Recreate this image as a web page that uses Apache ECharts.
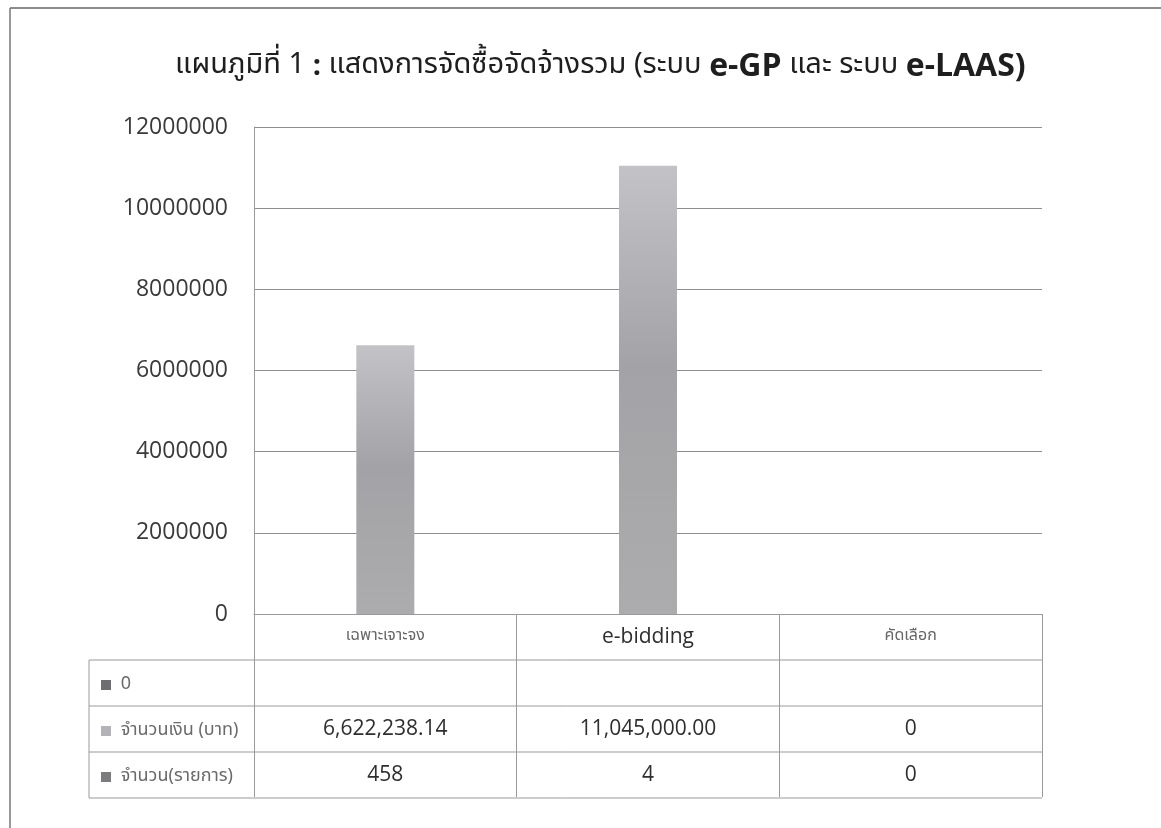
<!DOCTYPE html>
<html>
<head>
<meta charset="utf-8">
<title>แผนภูมิที่ 1</title>
<script src="https://cdn.jsdelivr.net/npm/echarts@6/dist/echarts.min.js"></script>
<style>
  html, body { margin: 0; padding: 0; background: #fff; }
  #chart { width: 1161px; height: 828px; }
</style>
</head>
<body>
<div id="chart"></div>
<script>
  // ข้อมูลจากแผนภูมิ
  const categories = ['เฉพาะเจาะจง', 'e-bidding', 'คัดเลือก']
  const seriesNames = ['0', 'จำนวนเงิน (บาท)', 'จำนวน(รายการ)']
  const zeroRow = [null, null, null]
  const amountBaht = [6622238.14, 11045000.00, 0]
  const itemCount = [458, 4, 0]
  const yMin = 0
  const yMax = 12000000
  const yStep = 2000000

  // layout
  const GRID = { left: 254, right: 119, top: 127, bottom: 214 }
  const W = 1161, H = 828
  const ROW_H = 46
  const TABLE_LEFT = 89
  const LINE = '#9a9a9a'
  const THAI = "'Noto Sans Thai', 'Noto Sans', 'DejaVu Sans', sans-serif"
  const LATIN = "'Open Sans', 'Noto Sans', sans-serif"

  const fmtAmount = v => v === 0 ? '0' : v.toLocaleString('en-US', { minimumFractionDigits: 2, maximumFractionDigits: 2 })
  const fmtCount = v => String(v)
  const isThai = s => /[\u0E00-\u0E7F]/.test(s)

  const seriesData = [zeroRow, amountBaht, itemCount]
  const seriesColors = ['#6e6e70', '#b3b3b7', '#7c7c7e']

  const chart = echarts.init(document.getElementById('chart'), null, { renderer: 'canvas' })

  const axisY = H - GRID.bottom
  const tableRight = W - GRID.right
  // table horizontal rules, one per row boundary below the header
  const rules = []
  for (let r = 1; r <= 4; r++) {
    const y = axisY + r * ROW_H
    rules.push({ type: 'line', shape: { x1: TABLE_LEFT, y1: y, x2: tableRight, y2: y }, style: { stroke: LINE, lineWidth: 1 }, silent: true })
  }
  rules.push({ type: 'line', shape: { x1: TABLE_LEFT, y1: axisY + ROW_H, x2: TABLE_LEFT, y2: axisY + 4 * ROW_H }, style: { stroke: LINE, lineWidth: 1 }, silent: true })
  // page frame
  rules.push({ type: 'line', shape: { x1: 10, y1: 8, x2: W, y2: 8 }, style: { stroke: '#666', lineWidth: 1.5 }, silent: true })
  rules.push({ type: 'line', shape: { x1: 10, y1: 8, x2: 10, y2: H }, style: { stroke: '#777', lineWidth: 1.5 }, silent: true })

  function rowAxis(data, fmt, margin) {
    return {
      type: 'category',
      gridIndex: 0,
      position: 'bottom',
      data: data.map(fmt),
      axisLine: { show: false },
      axisTick: { show: false },
      splitLine: { show: false },
      axisLabel: {
        interval: 0,
        margin: margin,
        verticalAlign: 'middle',
        color: '#2e2e2e',
        fontFamily: LATIN,
        fontSize: 21
      }
    }
  }

  chart.setOption({
    backgroundColor: '#fff',
    animation: false,
    title: {
      text: '{n|แผนภูมิที่ 1 }{b|:}{n| แสดงการจัดซื้อจัดจ้างรวม (ระบบ }{e|e-GP}{n| และ ระบบ }{e|e-LAAS)}',
      left: 170,
      top: 46,
      textStyle: {
        fontWeight: 'normal',
        rich: {
          n: { fontFamily: THAI, fontSize: 29, fontWeight: 'normal', color: '#1e1e1e' },
          b: { fontFamily: LATIN, fontSize: 29, fontWeight: 'bold', color: '#1e1e1e' },
          e: { fontFamily: LATIN, fontSize: 32, fontWeight: 'bold', color: '#1e1e1e' }
        }
      }
    },
    legend: {
      orient: 'vertical',
      left: 96,
      top: axisY + ROW_H + 10,
      itemWidth: 10,
      itemHeight: 10,
      itemGap: ROW_H - 20,
      icon: 'rect',
      selectedMode: false,
      formatter: name => ' ' + name,
      textStyle: { fontFamily: THAI, fontSize: 18, color: '#6a6a6a', lineHeight: 20 }
    },
    grid: {
      left: GRID.left,
      right: GRID.right,
      top: GRID.top,
      bottom: GRID.bottom,
      containLabel: false,
      outerBoundsMode: 'none'
    },
    xAxis: [
      {
        type: 'category',
        gridIndex: 0,
        position: 'bottom',
        data: categories,
        axisLine: { lineStyle: { color: LINE, width: 1 } },
        axisTick: { show: true, length: 4 * ROW_H - 1, lineStyle: { color: LINE, width: 1 } },
        splitLine: { show: false },
        axisLabel: {
          interval: 0,
          margin: ROW_H / 2,
          verticalAlign: 'middle',
          formatter: v => isThai(v) ? '{th|' + v + '}' : '{en|' + v + '}',
          rich: {
            th: { fontFamily: THAI, fontSize: 16, color: '#666' },
            en: { fontFamily: LATIN, fontSize: 21, color: '#2e2e2e' }
          }
        }
      },
      rowAxis(amountBaht, fmtAmount, ROW_H * 2.5),
      rowAxis(itemCount, fmtCount, ROW_H * 3.5)
    ],
    yAxis: {
      type: 'value',
      min: yMin,
      max: yMax,
      interval: yStep,
      axisLine: { show: true, lineStyle: { color: LINE, width: 1 } },
      axisTick: { show: false },
      splitLine: { lineStyle: { color: '#8e8e8e', width: 1 } },
      axisLabel: {
        margin: 26,
        color: '#3a3a3a',
        fontFamily: LATIN,
        fontSize: 23,
        formatter: v => String(v)
      }
    },
    series: seriesNames.map((name, i) => ({
      type: 'bar',
      name: name,
      xAxisIndex: 0,
      data: seriesData[i],
      barWidth: 58,
      barGap: '0%',
      itemStyle: {
        color: i === 1
          ? new echarts.graphic.LinearGradient(0, 0, 0, 1, [
            { offset: 0, color: '#c3c3c7' },
            { offset: 0.45, color: '#a3a3a7' },
            { offset: 1, color: '#acacae' }
          ])
          : seriesColors[i]
      }
    })),
    graphic: rules
  })
  // legend swatch colour for the amount series stays flat grey
  chart.setOption({ legend: { data: seriesNames.map((n, i) => ({ name: n, itemStyle: { color: seriesColors[i] } })) } })
</script>
</body>
</html>
